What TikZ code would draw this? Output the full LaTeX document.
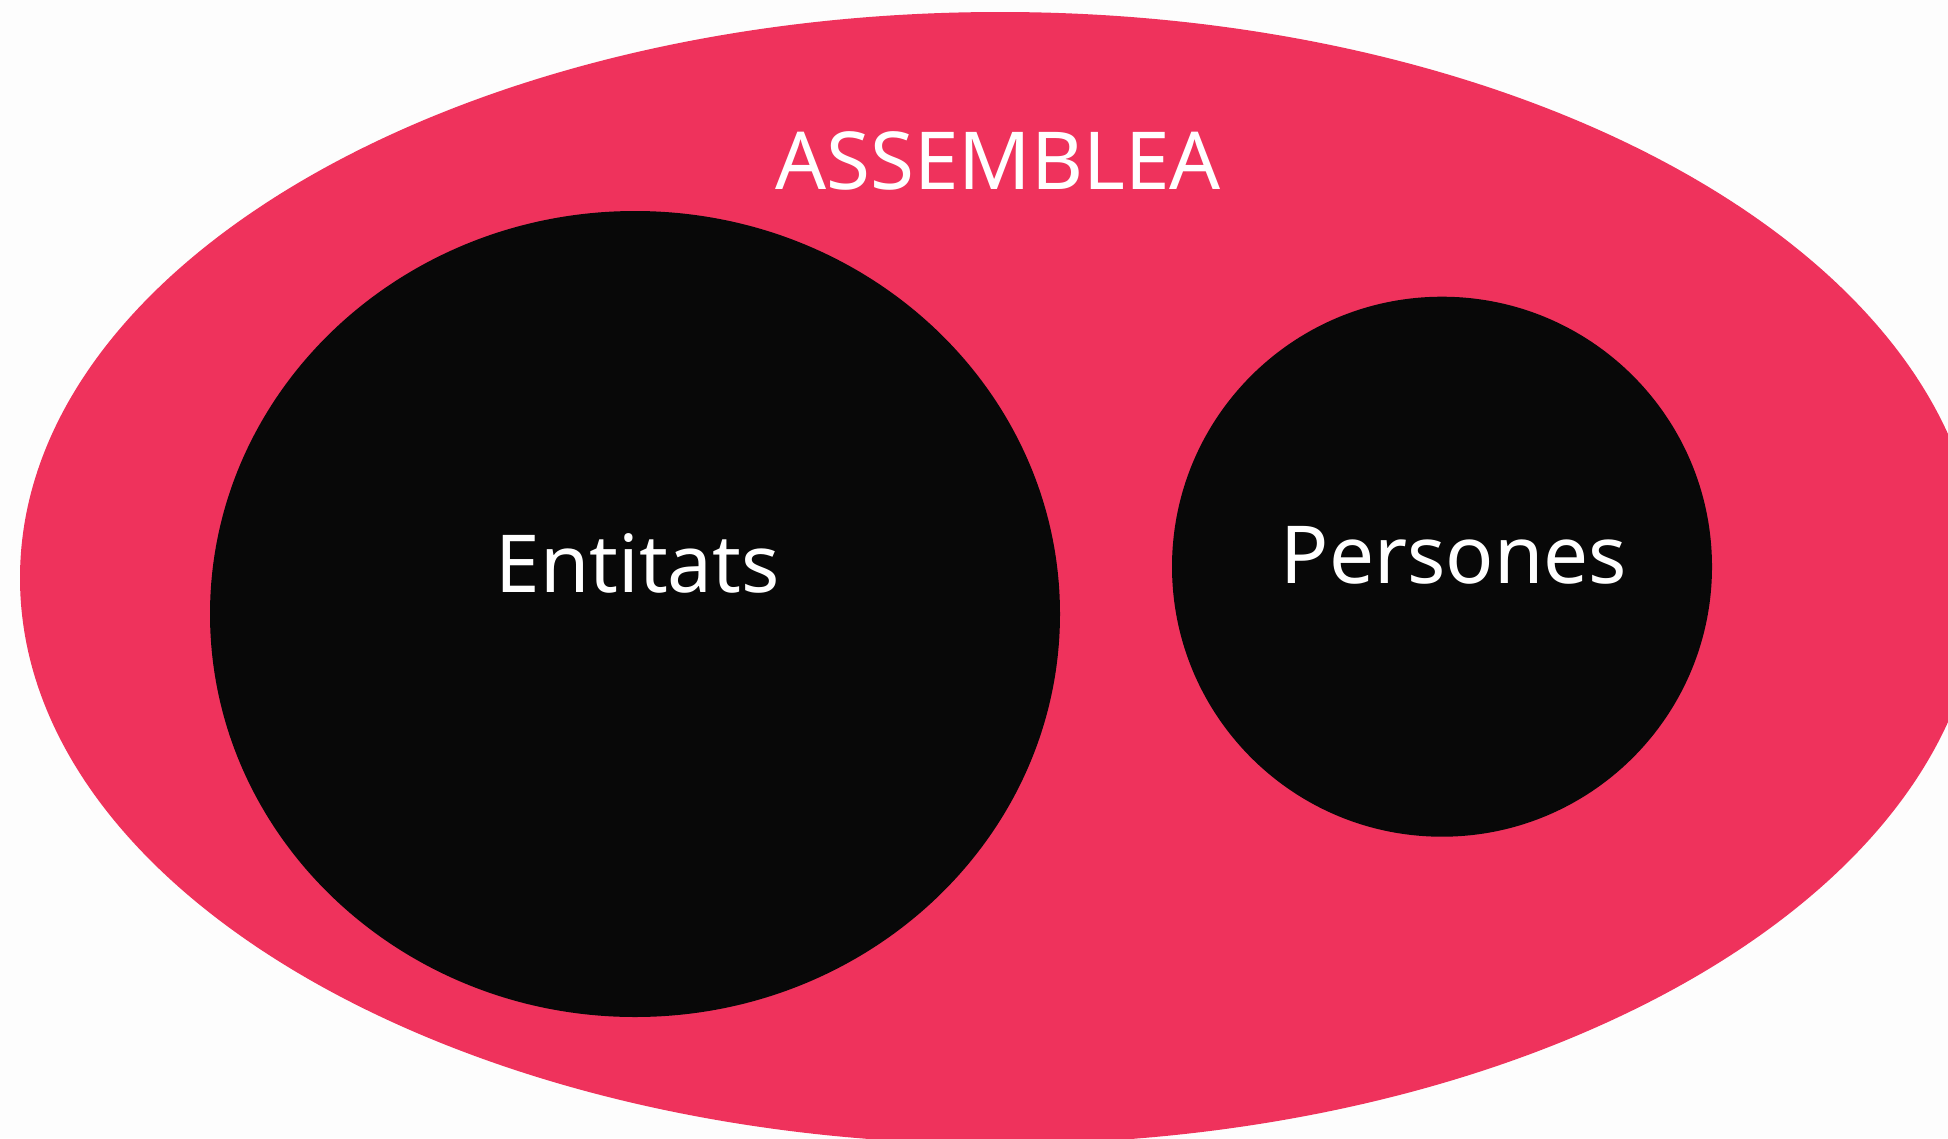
\documentclass[tikz,border=0pt]{standalone}
\usepackage{fontspec}
\setmainfont{Noto Sans}
\usetikzlibrary{shapes.geometric}
\definecolor{bgwhite}{RGB}{253,253,253}
\definecolor{assemred}{RGB}{239,50,92}
\definecolor{darkfill}{RGB}{8,8,8}
\begin{document}
\begin{tikzpicture}[x=1pt,y=-1pt,
  blob/.style={ellipse, inner sep=0pt, outer sep=0pt, draw=none},
  label/.style={text=white, anchor=base, inner sep=0pt, font=\fontsize{80}{96}\selectfont}]
  \useasboundingbox (0,0) rectangle (1948,1138);
  \fill[bgwhite] (0,0) rectangle (1948,1138);
  \clip (0,0) rectangle (1948,1138);
  \node[blob, fill=assemred, minimum width=1960pt, minimum height=1132pt] (assemblea) at (1000,578) {};
  \node[blob, fill=darkfill, minimum width=850pt, minimum height=806pt] (entitats) at (635,614) {};
  \node[blob, fill=darkfill, minimum width=540pt, minimum height=540pt] (persones) at (1442,566.7) {};
  \node[label] (tassemblea) at (998,189.3) {ASSEMBLEA};
  \node[label] (tentitats) at (637.8,592) {Entitats};
  \node[label] (tpersones) at (1453.8,583.4) {Persones};
\end{tikzpicture}
\end{document}
